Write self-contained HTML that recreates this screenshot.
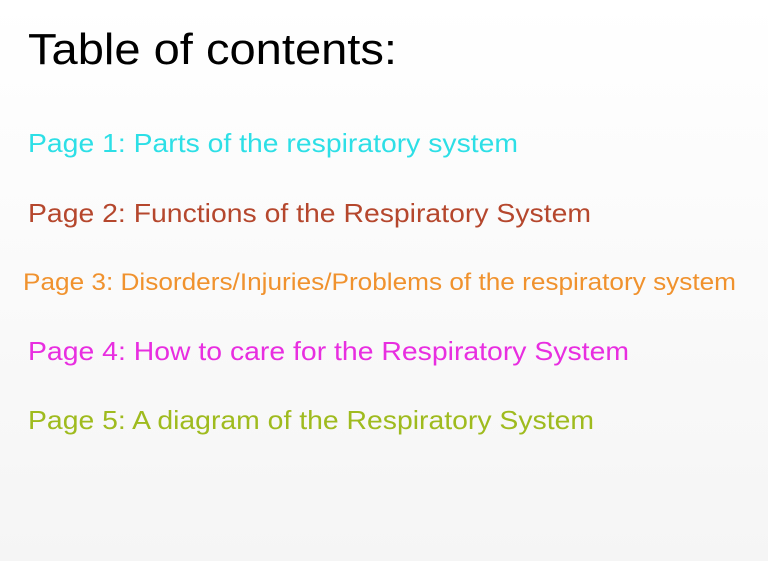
<!DOCTYPE html>
<html><head><style>
html,body{margin:0;padding:0;}
body{width:768px;height:561px;background:linear-gradient(#ffffff,#f5f5f5);overflow:hidden;}
svg{display:block}
text{font-family:"Liberation Sans",Arial,sans-serif;}
</style></head><body>
<svg width="768" height="561">
<text x="28" y="64" font-size="44" fill="#000" textLength="369" lengthAdjust="spacingAndGlyphs">Table of contents:</text>
<text x="28" y="152" font-size="26" fill="#2ddfe6" textLength="490" lengthAdjust="spacingAndGlyphs">Page 1: Parts of the respiratory system</text>
<text x="28" y="222" font-size="26" fill="#b5472d" textLength="563" lengthAdjust="spacingAndGlyphs">Page 2: Functions of the Respiratory System</text>
<text x="23" y="290" font-size="24.5" fill="#f0922e" textLength="713" lengthAdjust="spacingAndGlyphs">Page 3: Disorders/Injuries/Problems of the respiratory system</text>
<text x="28" y="360" font-size="26" fill="#e82ee0" textLength="601" lengthAdjust="spacingAndGlyphs">Page 4: How to care for the Respiratory System</text>
<text x="28" y="429" font-size="26" fill="#9fbb1e" textLength="566" lengthAdjust="spacingAndGlyphs">Page 5: A diagram of the Respiratory System</text>
</svg>
</body></html>
